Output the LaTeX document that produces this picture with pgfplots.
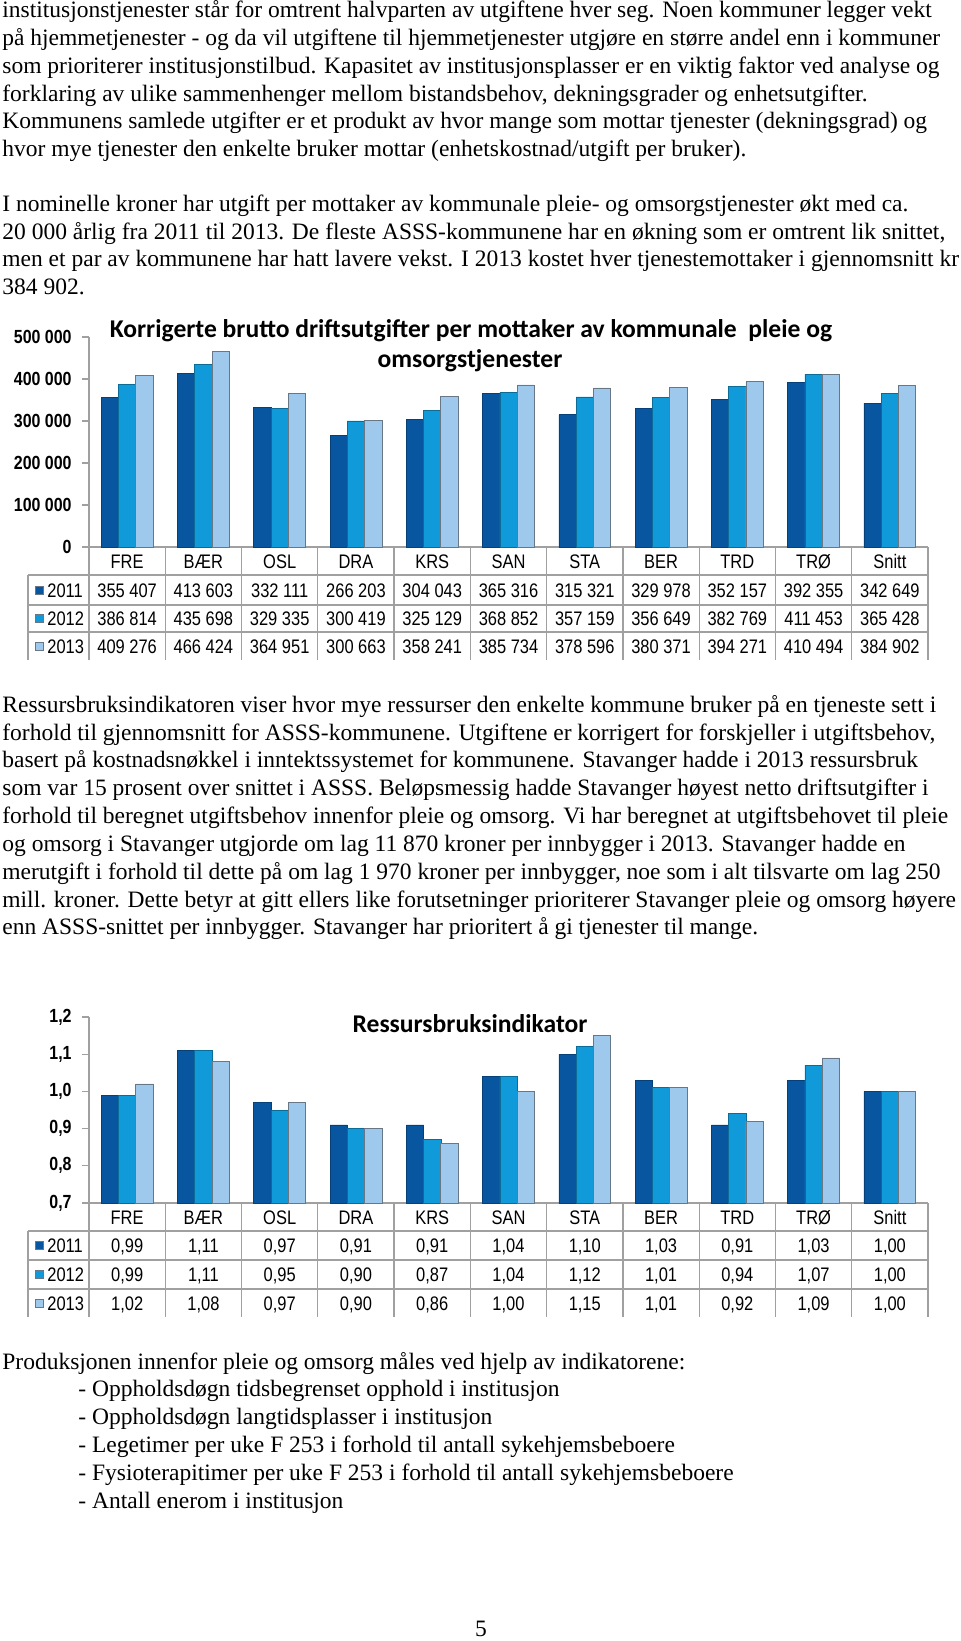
\documentclass[border=0pt]{standalone}
\usepackage{pgfplots}
\pgfplotsset{compat=1.18}
\usepackage{fontspec}
\setmainfont{Liberation Serif}
\newfontfamily\calibri{Carlito}
\newfontfamily\narrow[FakeStretch=0.84]{Liberation Sans}
\definecolor{cA}{RGB}{8,86,160}
\definecolor{cB}{RGB}{16,154,217}
\definecolor{cC}{RGB}{158,201,236}
\definecolor{gridc}{RGB}{160,160,160}

\pgfplotstableread{
x y2011 y2012 y2013
0 355407 386814 409276
1 413603 435698 466424
2 332111 329335 364951
3 266203 300419 300663
4 304043 325129 358241
5 365316 368852 385734
6 315321 357159 378596
7 329978 356649 380371
8 352157 382769 394271
9 392355 411453 410494
10 342649 365428 384902
}\tabA

\pgfplotstableread{
x y2011 y2012 y2013
0 0.99 0.99 1.02
1 1.11 1.11 1.08
2 0.97 0.95 0.97
3 0.91 0.90 0.90
4 0.91 0.87 0.86
5 1.04 1.04 1.00
6 1.10 1.12 1.15
7 1.03 1.01 1.01
8 0.91 0.94 0.92
9 1.03 1.07 1.09
10 1.00 1.00 1.00
}\tabB

\pgfplotsset{
  barchart/.style={
    scale only axis, width=419.5pt, anchor=south west,
    ybar=0pt, bar width=8.65pt,
    xmin=-0.5, xmax=10.5,
    axis x line*=bottom, axis y line*=left,
    axis line style={gridc, line width=0.6pt},
    xtick=\empty,
    ytick pos=left, tick align=outside, major tick length=3.5pt,
    tick style={gridc, line width=0.6pt},
    yticklabel style={font=\narrow\bfseries\fontsize{9.5}{10}\selectfont, inner sep=0pt, xshift=-5pt},
    clip=false,
  },
  b1/.style={fill=cA, draw=cA!75!black, line width=0.3pt},
  b2/.style={fill=cB, draw=cB!70!black, line width=0.3pt},
  b3/.style={fill=cC, draw=gray!80!cA, line width=0.4pt},
}

\begin{document}
\begin{tikzpicture}[x=0.5pt,y=-0.5pt]
\path[use as bounding box] (0,0) rectangle (960,1641);
\tikzset{txt/.style={anchor=mid west, inner sep=0pt, font=\fontsize{11.75}{13}\selectfont},
  tab/.style={inner sep=0pt, anchor=base, yshift=-3.5pt, font=\narrow\fontsize{9.8}{10}\selectfont},
  ttl/.style={inner sep=0pt, anchor=mid, font=\calibri\bfseries\fontsize{12.8}{14}\selectfont}}

% ---------------- paragraph 1 and 2
\node[txt] at (2,13) {institusjonstjenester står for omtrent halvparten av utgiftene hver seg. Noen kommuner legger vekt};
\node[txt] at (2,41) {på hjemmetjenester - og da vil utgiftene til hjemmetjenester utgjøre en større andel enn i kommuner};
\node[txt] at (2,69) {som prioriterer institusjonstilbud. Kapasitet av institusjonsplasser er en viktig faktor ved analyse og};
\node[txt] at (2,97) {forklaring av ulike sammenhenger mellom bistandsbehov, dekningsgrader og enhetsutgifter.};
\node[txt] at (2,124) {Kommunens samlede utgifter er et produkt av hvor mange som mottar tjenester (dekningsgrad) og};
\node[txt] at (2,152) {hvor mye tjenester den enkelte bruker mottar (enhetskostnad/utgift per bruker).};
\node[txt] at (2,207) {I nominelle kroner har utgift per mottaker av kommunale pleie- og omsorgstjenester økt med ca.};
\node[txt] at (2,235) {20 000 årlig fra 2011 til 2013. De fleste ASSS-kommunene har en økning som er omtrent lik snittet,};
\node[txt] at (2,262) {men et par av kommunene har hatt lavere vekst. I 2013 kostet hver tjenestemottaker i gjennomsnitt kr};
\node[txt] at (2,290) {384 902.};

% ---------------- chart 1
\begin{scope}[x={(1cm,0)},y={(0,1cm)}]
\begin{axis}[barchart, at={(44.5pt,-273.5pt)}, height=105pt,
  ymin=0, ymax=500000, ytick={0,100000,200000,300000,400000,500000},
  scaled y ticks=false,
  yticklabels={0,100 000,200 000,300 000,400 000,500 000}]
\addplot[b1] table[x=x,y=y2011] {\tabA};
\addplot[b2] table[x=x,y=y2012] {\tabA};
\addplot[b3] table[x=x,y=y2013] {\tabA};
\end{axis}
\end{scope}
\node[ttl] at (471,333) {Korrigerte brutto driftsutgifter per mottaker av kommunale\ \ pleie og};
\node[ttl] at (470,363) {omsorgstjenester};

% table 1
\begin{scope}[gridc, line width=0.6pt]
\foreach \k in {0,...,11} {\draw ({89+76.273*\k},547) -- ({89+76.273*\k},660);}
\draw (28,575) -- (28,660);
\foreach \yy in {575,605,632} {\draw (28,\yy) -- (928,\yy);}
\end{scope}
\foreach \n/\a/\b/\c [count=\i from 0] in {FRE/355 407/386 814/409 276,BÆR/413 603/435 698/466 424,OSL/332 111/329 335/364 951,DRA/266 203/300 419/300 663,KRS/304 043/325 129/358 241,SAN/365 316/368 852/385 734,STA/315 321/357 159/378 596,BER/329 978/356 649/380 371,TRD/352 157/382 769/394 271,TRØ/392 355/411 453/410 494,Snitt/342 649/365 428/384 902}{
  \pgfmathsetmacro\cx{89+76.273*(\i+0.5)}
  \node[tab] at (\cx,561) {\n};
  \node[tab] at (\cx,590) {\a};
  \node[tab] at (\cx,618.5) {\b};
  \node[tab] at (\cx,646) {\c};
}
\foreach \yy/\lab/\col in {590/2011/cA,618.5/2012/cB,646/2013/cC}{
  \fill[\col, draw=gray!80!cA, line width=0.3pt] (35,\yy-4) rectangle (43,\yy+4);
  \node[tab, anchor=base west] at (47,\yy) {\lab};
}

% ---------------- paragraph 3
\node[txt] at (2,708) {Ressursbruksindikatoren viser hvor mye ressurser den enkelte kommune bruker på en tjeneste sett i};
\node[txt] at (2,735.5) {forhold til gjennomsnitt for ASSS-kommunene. Utgiftene er korrigert for forskjeller i utgiftsbehov,};
\node[txt] at (2,763) {basert på kostnadsnøkkel i inntektssystemet for kommunene. Stavanger hadde i 2013 ressursbruk};
\node[txt] at (2,791) {som var 15 prosent over snittet i ASSS. Beløpsmessig hadde Stavanger høyest netto driftsutgifter i};
\node[txt] at (2,819) {forhold til beregnet utgiftsbehov innenfor pleie og omsorg. Vi har beregnet at utgiftsbehovet til pleie};
\node[txt] at (2,847) {og omsorg i Stavanger utgjorde om lag 11 870 kroner per innbygger i 2013. Stavanger hadde en};
\node[txt] at (2,875) {merutgift i forhold til dette på om lag 1 970 kroner per innbygger, noe som i alt tilsvarte om lag 250};
\node[txt] at (2,903) {mill. kroner. Dette betyr at gitt ellers like forutsetninger prioriterer Stavanger pleie og omsorg høyere};
\node[txt] at (2,930) {enn ASSS-snittet per innbygger. Stavanger har prioritert å gi tjenester til mange.};

% ---------------- chart 2
\begin{scope}[x={(1cm,0)},y={(0,1cm)}]
\begin{axis}[barchart, at={(44.5pt,-601.5pt)}, height=93pt,
  ymin=0.7, ymax=1.2, ytick={0.7,0.8,0.9,1.0,1.1,1.2},
  yticklabels={{0,7},{0,8},{0,9},{1,0},{1,1},{1,2}}]
\addplot[b1] table[x=x,y=y2011] {\tabB};
\addplot[b2] table[x=x,y=y2012] {\tabB};
\addplot[b3] table[x=x,y=y2013] {\tabB};
\end{axis}
\end{scope}
\node[ttl] at (470,1028) {Ressursbruksindikator};

% table 2
\begin{scope}[gridc, line width=0.6pt]
\foreach \k in {0,...,11} {\draw ({89+76.273*\k},1203) -- ({89+76.273*\k},1317);}
\draw (28,1231) -- (28,1317);
\foreach \yy in {1231,1260,1289} {\draw (28,\yy) -- (928,\yy);}
\end{scope}
\foreach \n [count=\i from 0] in {FRE,BÆR,OSL,DRA,KRS,SAN,STA,BER,TRD,TRØ,Snitt}{
  \pgfmathsetmacro\cx{89+76.273*(\i+0.5)}
  \node[tab] at (\cx,1217) {\n};
}
\foreach \a/\b/\c [count=\i from 0] in {{0,99}/{0,99}/{1,02},{1,11}/{1,11}/{1,08},{0,97}/{0,95}/{0,97},{0,91}/{0,90}/{0,90},{0,91}/{0,87}/{0,86},{1,04}/{1,04}/{1,00},{1,10}/{1,12}/{1,15},{1,03}/{1,01}/{1,01},{0,91}/{0,94}/{0,92},{1,03}/{1,07}/{1,09},{1,00}/{1,00}/{1,00}}{
  \pgfmathsetmacro\cx{89+76.273*(\i+0.5)}
  \node[tab] at (\cx,1245) {\a};
  \node[tab] at (\cx,1274) {\b};
  \node[tab] at (\cx,1303) {\c};
}
\foreach \yy/\lab/\col in {1245/2011/cA,1274/2012/cB,1303/2013/cC}{
  \fill[\col, draw=gray!80!cA, line width=0.3pt] (35,\yy-4) rectangle (43,\yy+4);
  \node[tab, anchor=base west] at (47,\yy) {\lab};
}

% ---------------- paragraph 4
\node[txt] at (2,1365) {Produksjonen innenfor pleie og omsorg måles ved hjelp av indikatorene:};
\node[txt] at (78,1392) {- Oppholdsdøgn tidsbegrenset opphold i institusjon};
\node[txt] at (78,1420) {- Oppholdsdøgn langtidsplasser i institusjon};
\node[txt] at (78,1448) {- Legetimer per uke F 253 i forhold til antall sykehjemsbeboere};
\node[txt] at (78,1476) {- Fysioterapitimer per uke F 253 i forhold til antall sykehjemsbeboere};
\node[txt] at (78,1504) {- Antall enerom i institusjon};
\node[txt, anchor=mid] at (481,1632) {5};
\end{tikzpicture}
\end{document}
